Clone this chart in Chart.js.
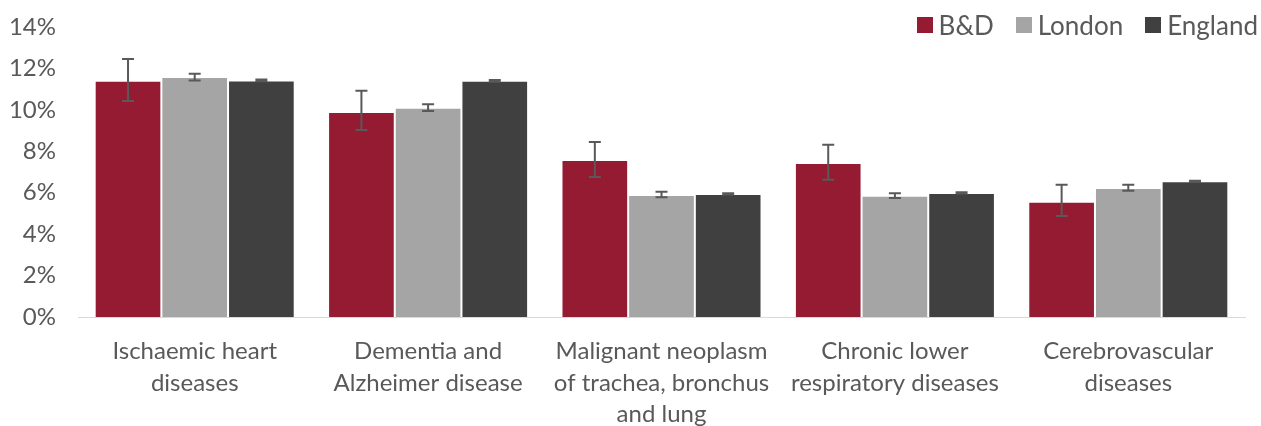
<!DOCTYPE html>
<html>
<head>
<meta charset="utf-8">
<script src="https://cdn.jsdelivr.net/npm/chart.js@4/dist/chart.umd.min.js"></script>
<style>
html,body{margin:0;padding:0;background:#fff;}
#wrap{position:relative;width:1261px;height:426px;}
#legend{position:absolute;right:3px;top:9px;display:flex;align-items:center;font-family:Lato,"Open Sans",sans-serif;font-size:26px;color:#595959;line-height:32px;}
#legend .it{display:flex;align-items:center;margin-left:22px;}
#legend .sw{width:16px;height:16px;margin-right:6px;}
</style>
</head>
<body>
<div id="wrap">
<canvas id="c" width="1261" height="426"></canvas>
<div id="legend"></div>
</div>
<script>
const categories = [
  ["Ischaemic heart","diseases"],
  ["Dementia and","Alzheimer disease"],
  ["Malignant neoplasm","of trachea, bronchus","and lung"],
  ["Chronic lower","respiratory diseases"],
  ["Cerebrovascular","diseases"]
];
const seriesNames = ["B&D","London","England"];
const bdValues = [11.40, 9.90, 7.58, 7.44, 5.56];
const bdLower = [10.43, 9.03, 6.76, 6.62, 4.88];
const bdUpper = [12.46, 10.92, 8.45, 8.31, 6.38];
const londonValues = [11.59, 10.10, 5.89, 5.85, 6.23];
const londonLower = [11.42, 9.95, 5.78, 5.74, 6.09];
const londonUpper = [11.74, 10.27, 6.05, 5.98, 6.38];
const englandValues = [11.42, 11.40, 5.94, 5.99, 6.55];
const englandLower = [11.38, 11.36, 5.91, 5.96, 6.52];
const englandUpper = [11.46, 11.44, 5.97, 6.02, 6.58];
const yTicks = [0,2,4,6,8,10,12,14];

const colors = ["#941B32","#A5A5A5","#404040"];
const lowers = [bdLower, londonLower, englandLower];
const uppers = [bdUpper, londonUpper, englandUpper];

const errorBars = {
  id:'errorBars',
  afterDatasetsDraw(chart){
    const ctx = chart.ctx, y = chart.scales.y;
    ctx.save();
    ctx.strokeStyle = '#595959';
    ctx.lineWidth = 2;
    chart.data.datasets.forEach((ds, di) => {
      const meta = chart.getDatasetMeta(di);
      meta.data.forEach((bar, i) => {
        const x = bar.x;
        const yl = y.getPixelForValue(lowers[di][i]);
        const yu = y.getPixelForValue(uppers[di][i]);
        ctx.beginPath();
        ctx.moveTo(x, yl); ctx.lineTo(x, yu);
        ctx.moveTo(x-6, yl); ctx.lineTo(x+6, yl);
        ctx.moveTo(x-6, yu); ctx.lineTo(x+6, yu);
        ctx.stroke();
      });
    });
    ctx.restore();
  }
};

const tickFont = {family:'Lato, "Open Sans", sans-serif', size:24, lineHeight:1.3};
const values = [bdValues, londonValues, englandValues];
const chart = new Chart(document.getElementById('c'), {
  type:'bar',
  data:{
    labels:categories,
    datasets: seriesNames.map((n,i)=>({
      label:n, data:values[i], backgroundColor:colors[i],
      borderColor:'rgba(255,255,255,0.35)', borderWidth:{left:1,right:1,top:1,bottom:0},
      categoryPercentage:0.857, barPercentage:1.0
    }))
  },
  options:{
    responsive:false, animation:false,
    layout:{padding:{left:0,right:16,top:27,bottom:0}},
    plugins:{legend:{display:false}, tooltip:{enabled:false}},
    scales:{
      x:{
        grid:{display:false, drawTicks:false},
        border:{display:true,color:'#D9D9D9',width:1},
        ticks:{color:'#595959',font:tickFont,padding:19,maxRotation:0,autoSkip:false},
        afterFit(s){ s.height = 109; s.paddingLeft = 0; s.paddingRight = 0; }
      },
      y:{
        min:0,max:14,
        grid:{display:false, drawTicks:false},
        border:{display:false},
        afterBuildTicks(s){ s.ticks = yTicks.map(v=>({value:v})); },
        ticks:{color:'#595959',font:tickFont,padding:22,callback:v=>v+'%'},
        afterFit(s){ s.width = 78; s.paddingTop = 0; s.paddingBottom = 0; }
      }
    }
  },
  plugins:[errorBars]
});

const leg = document.getElementById('legend');
seriesNames.forEach((n,i)=>{
  const it = document.createElement('div'); it.className='it';
  const sw = document.createElement('div'); sw.className='sw'; sw.style.background=colors[i];
  const t = document.createElement('span'); t.textContent=n;
  it.appendChild(sw); it.appendChild(t); leg.appendChild(it);
});
</script>
</body>
</html>
